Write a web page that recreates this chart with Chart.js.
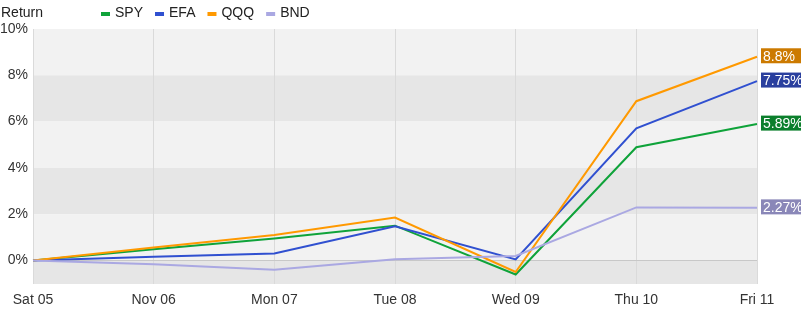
<!DOCTYPE html>
<html>
<head>
<meta charset="utf-8">
<script src="https://cdn.jsdelivr.net/npm/chart.js@4"></script>
<style>
  html, body { margin: 0; padding: 0; background: #fff; }
  #wrap { width: 801px; height: 311px; }
</style>
</head>
<body>
<div id="wrap"><canvas id="returnChart" width="801" height="311"></canvas></div>
<script>
// Category labels along the x axis
const days = ['Sat 05', 'Nov 06', 'Mon 07', 'Tue 08', 'Wed 09', 'Thu 10', 'Fri 11'];

// Cumulative return (%) per ticker
const spy = [0, 0.48, 0.95, 1.5, -0.61, 4.89, 5.89];
const efa = [0, 0.16, 0.3, 1.47, 0.04, 5.71, 7.75];
const qqq = [0, 0.56, 1.1, 1.85, -0.5, 6.88, 8.8];
const bnd = [0, -0.17, -0.4, 0.05, 0.19, 2.29, 2.27];

const yTicks = [0, 2, 4, 6, 8, 10];

const FONT = '"Liberation Sans", Arial, sans-serif';

// Alternating background bands behind the plot
const bandsPlugin = {
  id: 'bands',
  beforeDraw(chart) {
    const { ctx, chartArea: a, scales: { y } } = chart;
    const edges = [y.max, 8, 6, 4, 2, 0, y.min];
    ctx.save();
    for (let i = 0; i < edges.length - 1; i++) {
      const top = y.getPixelForValue(edges[i]);
      const bot = y.getPixelForValue(edges[i + 1]);
      ctx.fillStyle = i % 2 === 0 ? '#f2f2f2' : '#e6e6e6';
      ctx.fillRect(a.left, top, a.right - a.left, bot - top);
    }
    ctx.restore();
  }
};

// "Return" title and the small-box legend at the top
const headerPlugin = {
  id: 'header',
  afterDraw(chart) {
    const { ctx } = chart;
    ctx.save();
    ctx.font = '14px ' + FONT;
    ctx.textBaseline = 'middle';
    ctx.fillStyle = '#222';
    ctx.fillText('Return', 1, 13);
    let x = 101;
    chart.data.datasets.forEach(ds => {
      ctx.fillStyle = ds.borderColor;
      ctx.fillRect(x, 12, 9, 4);
      x += 14;
      ctx.fillStyle = '#222';
      ctx.fillText(ds.label, x, 13);
      x += ctx.measureText(ds.label).width + 12;
    });
    ctx.restore();
  }
};

// Value boxes at the right end of each line
const endLabelPlugin = {
  id: 'endLabels',
  afterDatasetsDraw(chart) {
    const { ctx, chartArea: a } = chart;
    ctx.save();
    ctx.font = '14px ' + FONT;
    ctx.textBaseline = 'middle';
    chart.data.datasets.forEach((ds, i) => {
      const meta = chart.getDatasetMeta(i);
      const pt = meta.data[meta.data.length - 1];
      const v = ds.data[ds.data.length - 1];
      const txt = v + '%';
      const x = a.right + 4;
      const y = pt.y - 1;
      ctx.fillStyle = ds.labelColor;
      ctx.fillRect(x, y - 7.5, chart.width - x, 15);
      ctx.fillStyle = '#fff';
      ctx.fillText(txt, x + 2, y + 1);
    });
    ctx.restore();
  }
};

const mk = (label, data, color, labelColor, order) => ({
  label, data,
  borderColor: color,
  backgroundColor: color,
  labelColor,
  borderWidth: 2,
  pointRadius: 0,
  tension: 0,
  fill: false,
  order
});

new Chart(document.getElementById('returnChart'), {
  type: 'line',
  data: {
    labels: days,
    datasets: [
      mk('SPY', spy, '#0fa33a', '#0b7f2c', 4),
      mk('EFA', efa, '#3050d0', '#2a3f9e', 3),
      mk('QQQ', qqq, '#ff9900', '#cc7a00', 2),
      mk('BND', bnd, '#aaa8e2', '#8a87b8', 1)
    ]
  },
  options: {
    responsive: false,
    animation: false,
    layout: { padding: { top: 29, right: 44, left: 0, bottom: 0 } },
    plugins: {
      legend: { display: false },
      tooltip: { enabled: false }
    },
    scales: {
      x: {
        offset: false,
        grid: { color: '#dadada', drawTicks: false },
        border: { display: false },
        ticks: {
          color: '#333',
          font: { family: FONT, size: 14 },
          padding: 8,
          maxRotation: 0,
          autoSkip: false
        },
        afterFit(scale) { scale.height = 27; }
      },
      y: {
        min: -1.02,
        max: 10,
        afterBuildTicks(scale) { scale.ticks = yTicks.map(v => ({ value: v })); },
        grid: {
          drawTicks: false,
          color: ctx => ctx.tick && ctx.tick.value === 0 ? '#c8c8c8' : 'rgba(0,0,0,0)'
        },
        border: { display: false },
        ticks: {
          color: '#333',
          font: { family: FONT, size: 14 },
          padding: 5,
          callback: v => v + '%'
        },
        afterFit(scale) { scale.width = 33; }
      }
    }
  },
  plugins: [bandsPlugin, headerPlugin, endLabelPlugin]
});
</script>
</body>
</html>
